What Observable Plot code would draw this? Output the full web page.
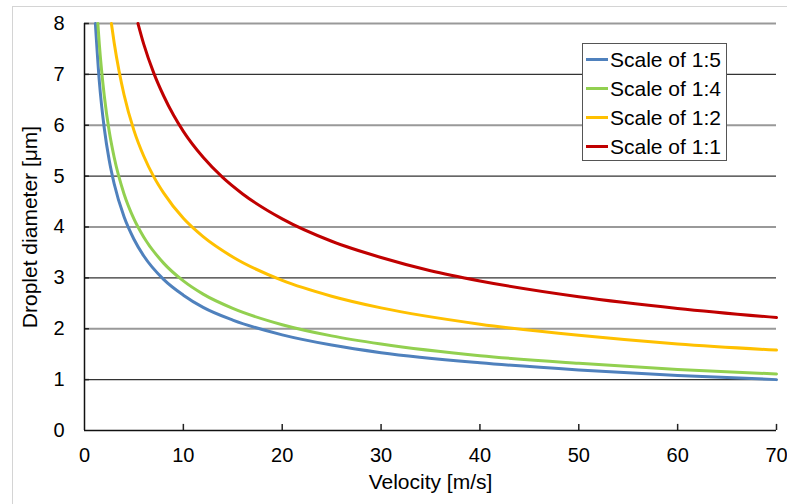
<!DOCTYPE html>
<html>
<head>
<meta charset="utf-8">
<script src="https://cdn.jsdelivr.net/npm/d3@7"></script>
<script src="https://cdn.jsdelivr.net/npm/@observablehq/plot@0.6"></script>
<style>
  body { margin: 0; background: #fff; }
  #wrap { position: relative; width: 787px; height: 504px; overflow: hidden; font-family: "Liberation Sans", Arial, sans-serif; }
  #frame { position: absolute; left: 12px; top: 6px; width: 820px; height: 560px; border: 1px solid #d4d4d4; pointer-events: none; }
  #legend { position: absolute; left: 582px; top: 43px; width: 143px; height: 115px; border: 1px solid #555; background: #fff; padding-top: 1px; }
  .row { display: flex; align-items: center; height: 29px; }
  .sw { width: 22px; height: 3px; margin-left: 3px; }
  .lab { margin-left: 2px; font-size: 21px; color: #000; line-height: 29px; }
</style>
</head>
<body>
<div id="wrap"></div>
<script>
// Tick values
const xTicks = [0, 10, 20, 30, 40, 50, 60, 70];
const yTicks = [0, 1, 2, 3, 4, 5, 6, 7, 8];

// Series names and colours
const seriesNames = ["Scale of 1:5", "Scale of 1:4", "Scale of 1:2", "Scale of 1:1"];
const seriesColors = ["#4F81BD", "#92D050", "#FFC000", "#C00000"];

// Scale of 1:5 (blue) — velocity [m/s], droplet diameter [µm]
const v15 = [1.1, 1.5, 2, 2.5, 3, 4, 5, 6, 8, 10, 12, 15, 20, 25, 30, 40, 50, 60, 70];
const d15 = [8.0, 6.86, 5.94, 5.31, 4.85, 4.20, 3.76, 3.43, 2.97, 2.66, 2.42, 2.17, 1.88, 1.68, 1.53, 1.33, 1.19, 1.08, 1.00];

// Scale of 1:4 (green)
const v14 = [1.35, 1.5, 2, 2.5, 3, 4, 5, 6, 8, 10, 12, 15, 20, 25, 30, 40, 50, 60, 70];
const d14 = [8.0, 7.59, 6.58, 5.88, 5.37, 4.65, 4.16, 3.80, 3.29, 2.94, 2.68, 2.40, 2.08, 1.86, 1.70, 1.47, 1.32, 1.20, 1.11];

// Scale of 1:2 (yellow)
const v12 = [2.72, 3, 3.5, 4, 5, 6, 7, 8, 10, 12, 15, 20, 25, 30, 40, 50, 60, 70];
const d12 = [8.0, 7.62, 7.06, 6.60, 5.90, 5.39, 4.99, 4.67, 4.17, 3.81, 3.41, 2.95, 2.64, 2.41, 2.09, 1.87, 1.70, 1.58];

// Scale of 1:1 (red)
const v11 = [5.41, 6, 7, 8, 9, 10, 12, 14, 16, 20, 25, 30, 35, 40, 50, 60, 70];
const d11 = [8.0, 7.59, 7.03, 6.58, 6.20, 5.88, 5.37, 4.97, 4.65, 4.16, 3.72, 3.40, 3.14, 2.94, 2.63, 2.40, 2.22];

const seriesV = [v15, v14, v12, v11];
const seriesD = [d15, d14, d12, d11];

const data = [];
seriesNames.forEach((name, i) => {
  seriesV[i].forEach((v, j) => data.push({series: name, v, d: seriesD[i][j]}));
});

const gridEven = yTicks.filter(t => t > 0 && t % 2 === 0);
const gridOdd = yTicks.filter(t => t > 0 && t % 2 === 1);

const chart = Plot.plot({
  width: 787,
  height: 504,
  marginLeft: 84,
  marginRight: 11,
  marginTop: 23,
  marginBottom: 74,
  style: {fontFamily: '"Liberation Sans", Arial, sans-serif', background: "transparent", color: "#000"},
  x: {domain: [0, 70], axis: null},
  y: {domain: [0, 8], axis: null},
  color: {domain: seriesNames, range: seriesColors},
  marks: [
    Plot.ruleY(gridEven, {stroke: "#999", strokeWidth: 1.8}),
    Plot.ruleY(gridOdd, {stroke: "#333", strokeWidth: 1.2}),
    Plot.ruleY(yTicks.filter(t => t > 0), {x1: 0, x2: 0.5, stroke: "#222", strokeWidth: 1.5}),
    Plot.ruleX(xTicks.filter(t => t > 0), {y1: 0, y2: 0.12, stroke: "#222", strokeWidth: 1.5}),
    Plot.ruleX([0], {stroke: "#111", strokeWidth: 1.5}),
    Plot.ruleY([0], {stroke: "#111", strokeWidth: 1.5}),
    Plot.line(data, {x: "v", y: "d", z: "series", stroke: "series", strokeWidth: 3, curve: "monotone-x"}),
    Plot.text(xTicks, {x: d => d, y: 0, dy: 25, text: d => String(d), fontSize: 20, lineAnchor: "middle", fill: "#000"}),
    Plot.text(yTicks, {x: 0, y: d => d, dx: -20, text: d => String(d), fontSize: 20, textAnchor: "end", lineAnchor: "middle", fill: "#000"}),
    Plot.text(["Velocity [m/s]"], {frameAnchor: "bottom", dy: 52, fontSize: 21, textAnchor: "middle", lineAnchor: "middle", fill: "#000"}),
    Plot.text(["Droplet diameter [μm]"], {frameAnchor: "left", dx: -54, rotate: -90, fontSize: 21, textAnchor: "middle", lineAnchor: "middle", fill: "#000"})
  ]
});

const wrap = document.getElementById("wrap");
chart.style.position = "absolute";
chart.style.left = "0px";
chart.style.top = "0px";
wrap.appendChild(chart);

const frame = document.createElement("div");
frame.id = "frame";
wrap.appendChild(frame);

const legend = document.createElement("div");
legend.id = "legend";
seriesNames.forEach((name, i) => {
  const row = document.createElement("div");
  row.className = "row";
  const sw = document.createElement("div");
  sw.className = "sw";
  sw.style.background = seriesColors[i];
  const lab = document.createElement("span");
  lab.className = "lab";
  lab.textContent = name;
  row.appendChild(sw);
  row.appendChild(lab);
  legend.appendChild(row);
});
wrap.appendChild(legend);
</script>
</body>
</html>
